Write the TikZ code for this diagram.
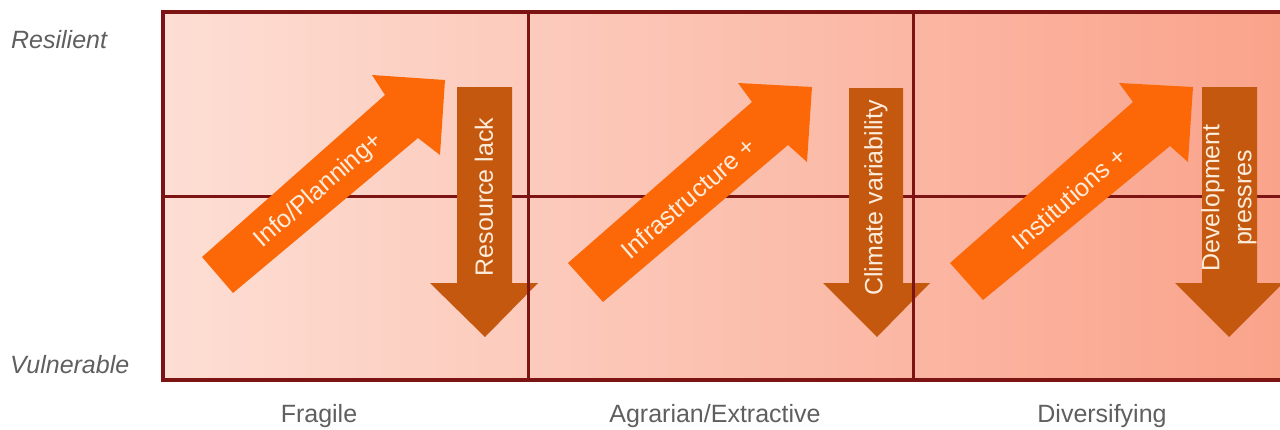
\documentclass[tikz,border=0pt]{standalone}
\usepackage{fontspec}
\setmainfont{Liberation Sans}
\definecolor{bgL}{RGB}{253,222,212}
\definecolor{bgR}{RGB}{250,162,138}
\definecolor{framec}{RGB}{125,20,20}
\definecolor{upc}{RGB}{252,104,8}
\definecolor{downc}{RGB}{196,88,14}
\definecolor{lblc}{RGB}{252,236,220}
\definecolor{axisc}{RGB}{95,95,95}
\begin{document}
\begin{tikzpicture}[x=1pt,y=-1pt,
  arrowtext/.style={text=lblc,font=\fontsize{25}{32}\selectfont,inner sep=0pt},
  uparrow/.style={fill=upc},
  downarrow/.style={fill=downc},
  gridline/.style={draw=framec,line width=3pt},
  axislabel/.style={text=axisc,font=\fontsize{25}{28}\selectfont\itshape,anchor=base west,inner sep=0pt},
  stagelabel/.style={text=axisc,font=\fontsize{25}{28}\selectfont,anchor=base,inner sep=0pt}]
\useasboundingbox (0,0) rectangle (1280,429);
% background
\shade[left color=bgL,right color=bgR] (163,12) rectangle (1300,380);
\draw[gridline] (163,196) -- (1300,196);
% up arrows
\fill[uparrow] (202,257) -- (385,95) -- (372,75) -- (445,80) -- (440,155) -- (418,138) -- (233,293) -- cycle;
\fill[uparrow] (568,263) -- (752,102) -- (738,83) -- (812,87) -- (807,162) -- (788,145) -- (603,302) -- cycle;
\fill[uparrow] (950,263) -- (1133,102) -- (1119,83) -- (1193,87) -- (1188,162) -- (1170,146) -- (983,300) -- cycle;
% down arrows
\fill[downarrow] (457,87) -- (512,87) -- (512,283) -- (538,283) -- (485,337) -- (430,283) -- (457,283) -- cycle;
\fill[downarrow] (849,88) -- (903,88) -- (903,283) -- (930,283) -- (877,337) -- (823,283) -- (849,283) -- cycle;
\fill[downarrow] (1202,87) -- (1257,87) -- (1257,283) -- (1283,283) -- (1229,337) -- (1175,283) -- (1202,283) -- cycle;
% arrow labels
\node[arrowtext,rotate=41] (info) at (319,191) {Info/Planning+};
\node[arrowtext,rotate=41] (infra) at (688,198) {Infrastructure +};
\node[arrowtext,rotate=41] (inst) at (1069,198) {Institutions +};
\node[arrowtext,rotate=90] (res) at (484,197) {Resource lack};
\node[arrowtext,rotate=90] (clim) at (876,198) {Climate variability};
\node[arrowtext,rotate=90,align=center] (dev) at (1229,198) {Development\\pressres};
% dividers and frame
\draw[gridline] (528,12) -- (528,380);
\draw[gridline] (913,12) -- (913,380);
\draw[draw=framec,line width=3.5pt] (1300,12) -- (163,12) -- (163,380) -- (1300,380);
% axis labels
\node[axislabel] (resil) at (11,48) {Resilient};
\node[axislabel] (vuln) at (10,373) {Vulnerable};
\node[stagelabel] (frag) at (319,422) {Fragile};
\node[stagelabel] (agr) at (715,422) {Agrarian/Extractive};
\node[stagelabel] (div) at (1102,422) {Diversifying};
\end{tikzpicture}
\end{document}
